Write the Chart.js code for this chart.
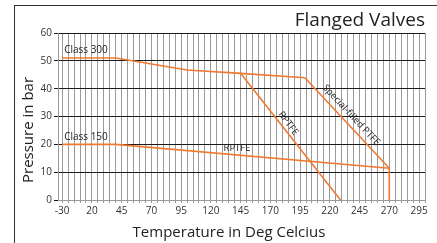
<!DOCTYPE html>
<html>
<head>
<meta charset="utf-8">
<script src="https://cdn.jsdelivr.net/npm/chart.js@4/dist/chart.umd.min.js"></script>
<style>
html, body { margin: 0; padding: 0; background: #fff; }
#wrap { position: relative; width: 437px; height: 243px; overflow: hidden; }
#frame { position: absolute; left: 14px; top: 5px; right: -2px; bottom: -2px;
         border-top: 1.5px solid #333; border-left: 1.5px solid #333; pointer-events: none; }
canvas { position: absolute; left: 0; top: 0; }
</style>
</head>
<body>
<div id="wrap">
  <canvas id="myChart" width="437" height="243"></canvas>
  <div id="frame"></div>
</div>
<script>
// x axis: labelled every 25 deg, first label reads -30
const tickPositions = [-5, 20, 45, 70, 95, 120, 145, 170, 195, 220, 245, 270, 295];
const tickLabels = ['-30', '20', '45', '70', '95', '120', '145', '170', '195', '220', '245', '270', '295'];
const gridStep = 5;

// Class 300
const class300Temp = [-5, 40, 100, 145, 199];
const class300Bar = [51, 51, 46.7, 45.5, 43.9];
// RPTFE (class 300 branch)
const rptfe300Temp = [145, 229];
const rptfe300Bar = [45.5, 0];
// Special filled PTFE
const specialTemp = [199, 270, 270];
const specialBar = [43.9, 11.4, 0];
// Class 150 RPTFE
const class150Temp = [-5, 40, 270];
const class150Bar = [20, 20, 11.4];

// text notes on the plot (data coords, angle in deg)
const noteText = ['Class 300', 'Class 150', 'RPTFE', 'RPTFE', 'Special-filled PTFE'];
const noteTemp = [15, 15, 142, 185, 238];
const noteBar = [53.9, 22.6, 18.7, 27.5, 30.5];
const noteAngle = [0, 0, 0, 53, 47];

const lineColor = '#f07a30';

Chart.defaults.font.family = "'Open Sans', sans-serif";

function toPoints(xs, ys) {
    return xs.map((x, i) => ({ x: x, y: ys[i] }));
}

function series(xs, ys) {
    return {
        data: toPoints(xs, ys),
        borderColor: lineColor,
        borderWidth: 1.6,
        pointRadius: 0,
        fill: false,
        tension: 0
    };
}

const textPlugin = {
    id: 'texts',
    afterDraw(chart) {
        const ctx = chart.ctx;
        const xs = chart.scales.x;
        const ys = chart.scales.y;
        ctx.save();
        ctx.fillStyle = '#222';
        ctx.textAlign = 'center';
        ctx.textBaseline = 'middle';
        for (let i = 0; i < noteText.length; i++) {
            ctx.save();
            ctx.translate(xs.getPixelForValue(noteTemp[i]), ys.getPixelForValue(noteBar[i]));
            ctx.rotate(noteAngle[i] * Math.PI / 180);
            ctx.font = (i < 2 ? '10px' : '9.5px') + " 'Open Sans', sans-serif";
            ctx.fillText(noteText[i], 0, 0);
            ctx.restore();
        }
        // title
        ctx.fillStyle = '#222';
        ctx.textBaseline = 'alphabetic';
        ctx.textAlign = 'right';
        ctx.font = "19px 'Open Sans', sans-serif";
        ctx.fillText('Flanged Valves', chart.chartArea.right, 26);
        // axis titles
        ctx.textAlign = 'center';
        ctx.font = "15px 'Open Sans', sans-serif";
        ctx.fillText('Temperature in Deg Celcius', 229, 237);
        ctx.save();
        ctx.translate(33, 130);
        ctx.rotate(-Math.PI / 2);
        ctx.fillText('Pressure in bar', 0, 0);
        ctx.restore();
        ctx.restore();
    }
};

const config = {
    type: 'line',
    data: {
        datasets: [
            series(class300Temp, class300Bar),
            series(rptfe300Temp, rptfe300Bar),
            series(specialTemp, specialBar),
            series(class150Temp, class150Bar)
        ]
    },
    options: {
        responsive: false,
        animation: false,
        devicePixelRatio: 1,
        layout: { padding: { left: 14, right: 12, top: 33, bottom: 0 } },
        plugins: { legend: { display: false }, tooltip: { enabled: false } },
        scales: {
            x: {
                type: 'linear',
                min: -8.5,
                max: 300,
                afterFit: (s) => { s.height = 43; },
                afterBuildTicks: (s) => {
                    const t = [];
                    for (let v = tickPositions[0]; v <= s.max; v += gridStep) t.push({ value: v });
                    s.ticks = t;
                },
                grid: { color: '#9a9a9a', lineWidth: 1, tickLength: 3 },
                border: { color: '#9a9a9a' },
                ticks: {
                    autoSkip: false,
                    maxRotation: 0,
                    minRotation: 0,
                    padding: 2,
                    color: '#333',
                    font: { size: 10 },
                    callback: (v) => {
                        const i = tickPositions.findIndex(p => Math.abs(p - v) < 1e-6);
                        return i >= 0 ? tickLabels[i] : '';
                    }
                }
            },
            y: {
                min: 0,
                max: 60,
                afterFit: (s) => { s.width = 44; },
                grid: { color: '#1a1a1a', lineWidth: 1, tickLength: 4 },
                border: { color: '#9a9a9a' },
                ticks: { stepSize: 10, padding: 2, color: '#333', font: { size: 10 } }
            }
        }
    },
    plugins: [textPlugin]
};

var myChart = new Chart(document.getElementById('myChart'), config);
</script>
</body>
</html>
